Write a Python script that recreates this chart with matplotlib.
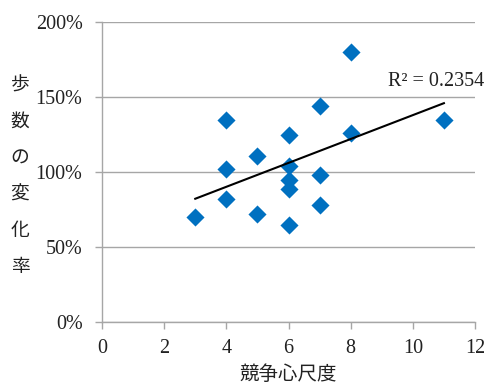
import numpy as np
import matplotlib
matplotlib.use("Agg")
import matplotlib.pyplot as plt

# Data
competitiveness = [3, 4, 4, 4, 5, 5, 6, 6, 6, 6, 6, 7, 7, 7, 8, 8, 11]
step_change = [70, 135, 102, 82, 111, 72, 125, 104, 95, 89, 65, 144, 98, 78, 126, 180, 135]
x_ticks = [0, 2, 4, 6, 8, 10, 12]
y_ticks = [0, 50, 100, 150, 200]
y_tick_labels = ["0%", "50%", "100%", "150%", "200%"]
r2_label = "R² = 0.2354"
x_label = "競争心尺度"
y_label = "歩\n数\nの\n変\n化\n率"

serif = ["Liberation Serif", "DejaVu Serif"]
cjk = ["Noto Sans CJK JP", "DejaVu Sans"]
grey = "#A6A6A6"
txt = "#222222"

fig = plt.figure(figsize=(4.85, 3.84), dpi=100)
ax = fig.add_axes([102/485, 62/384, 373/485, 300/384])

x = np.array(competitiveness, dtype=float)
y = np.array(step_change, dtype=float)
ax.scatter(x, y, marker="D", s=85, color="#0070C0", zorder=3, linewidths=0)

m, b = np.polyfit(x, y, 1)
xs = np.array([x.min(), x.max()])
ax.plot(xs, m * xs + b, color="black", lw=1.5, zorder=4)

ax.set_xlim(0, 12)
ax.set_ylim(0, 200)
ax.set_xticks(x_ticks)
ax.set_yticks(y_ticks)
ax.set_yticklabels(y_tick_labels)
for lab in ax.get_xticklabels() + ax.get_yticklabels():
    lab.set_fontfamily(serif)
    lab.set_fontsize(14.5)
    lab.set_color(txt)

ax.grid(axis="y", color=grey, lw=1)
ax.set_axisbelow(True)
for s in ["top", "right"]:
    ax.spines[s].set_visible(False)
for s in ["left", "bottom"]:
    ax.spines[s].set_color(grey)
    ax.spines[s].set_linewidth(1)
ax.tick_params(axis="both", colors=grey, length=5, width=1, labelcolor=txt)
ax.tick_params(axis="x", pad=7)
ax.tick_params(axis="y", pad=9)

ax.text(10.75, 160, r2_label, fontfamily=serif, fontsize=14.5, ha="center", va="center", color=txt)

fig.text(20/485, 1 - 176/384, y_label, fontfamily=cjk, fontsize=13.5, ha="center", va="center",
         linespacing=1.95, color=txt)
fig.text(288/485, 1 - 374/384, x_label, fontfamily=cjk, fontsize=14, ha="center", va="center", color=txt)

fig.savefig("out.png", dpi=100)
